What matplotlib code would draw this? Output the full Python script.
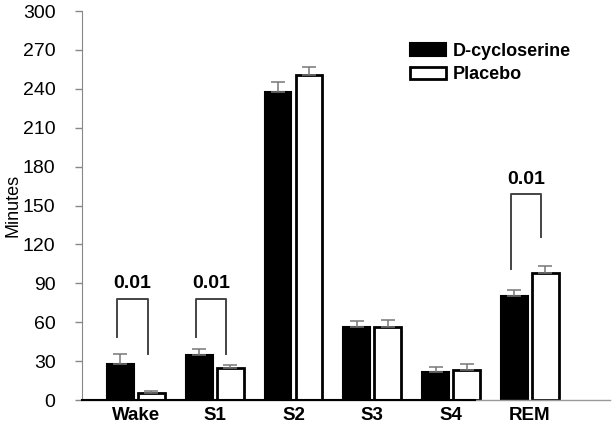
import numpy as np
import matplotlib.pyplot as plt

plt.rcParams['font.family'] = ['Liberation Sans', 'DejaVu Sans']

stages = ['Wake', 'S1', 'S2', 'S3', 'S4', 'REM']
dcs_mean = [27.5, 34.7, 237.4, 56.5, 21.3, 80.4]
dcs_err = [8.2, 4.3, 7.6, 4.2, 3.9, 4.4]
placebo_mean = [5.6, 24.7, 250.6, 56.5, 23.4, 98.2]
placebo_err = [1.4, 2.3, 6.1, 4.9, 4.1, 5.1]

# significance brackets: (stage index, bracket top, left leg bottom, right leg bottom, label)
brackets = [(0, 78, 48.6, 35.5, '0.01'),
            (1, 78, 48.6, 35.5, '0.01'),
            (5, 158.6, 101, 125.4, '0.01')]

fig = plt.figure(figsize=(6.12, 4.28), dpi=100)
ax = fig.add_axes([0.134, 0.0654, 0.863, 0.9088])

x = np.arange(len(stages))
w = 0.34
off = 0.197
err_kw = dict(ecolor='#777777', elinewidth=1.1, capsize=5, capthick=1.1)

ax.bar(x - off, dcs_mean, w, color='black', edgecolor='black', linewidth=1.5,
       yerr=[np.zeros(len(x)), dcs_err], error_kw=err_kw, label='D-cycloserine')
ax.bar(x + off, placebo_mean, w, color='white', edgecolor='black', linewidth=2,
       yerr=[np.zeros(len(x)), placebo_err], error_kw=err_kw, label='Placebo')

for i, top, lb, rb, txt in brackets:
    xl = i - off - 0.04
    xr = i + off - 0.05
    ax.plot([xl, xl, xr, xr], [lb, top, top, rb], color='#444444', lw=1.4)
    ax.text((xl + xr) / 2, top + 5, txt, ha='center', va='bottom',
            fontsize=14, fontweight='bold')

ax.set_xlim(-0.685, 6.02)
ax.set_ylim(0, 300)
ax.set_yticks(np.arange(0, 301, 30))
ax.set_xticks(x)
ax.set_xticklabels(stages, fontsize=13.5, fontweight='bold')
ax.tick_params(axis='x', length=0, pad=5)
ax.tick_params(axis='y', labelsize=14, length=5, color='#888888', width=1, pad=14)
fig.text(0.021, 0.52, 'Minutes', rotation=90, ha='center', va='center', fontsize=13)

for s in ['top', 'right']:
    ax.spines[s].set_visible(False)
ax.spines['left'].set_color('#888888')
ax.spines['bottom'].set_color('#999999')
ax.spines['bottom'].set_linewidth(1)
ax.plot([-0.685, 4.3], [0, 0], color='black', lw=1.5, clip_on=False, zorder=3)

ax.legend(loc='upper left', bbox_to_anchor=(0.59, 0.96), frameon=False,
          prop={'weight': 'bold', 'size': 13}, handlelength=2.0,
          handleheight=0.7, handletextpad=0.4, labelspacing=0.35)

fig.savefig('out.png', dpi=100)
